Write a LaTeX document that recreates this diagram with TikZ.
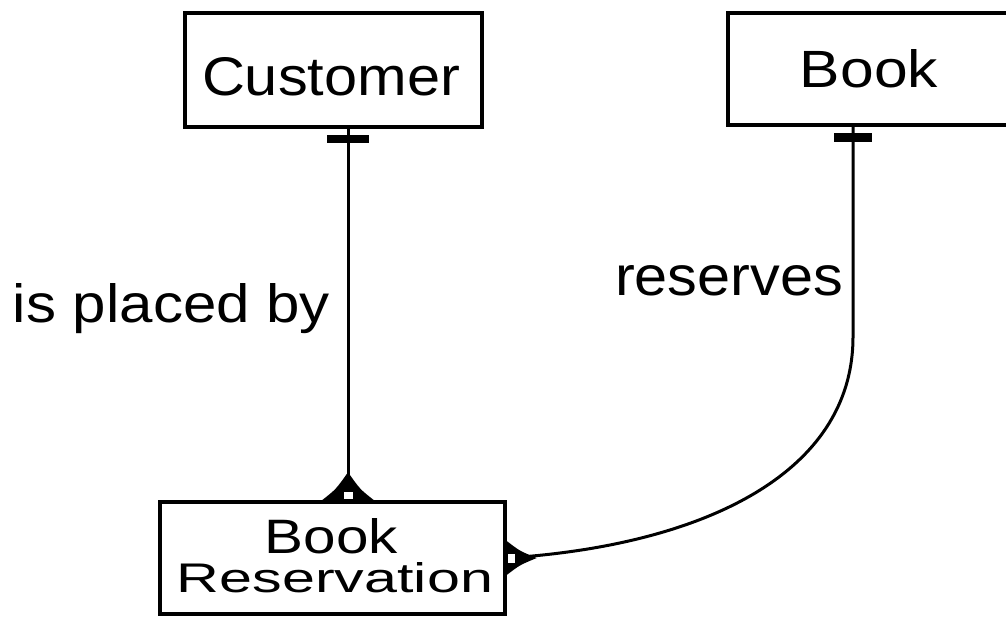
\documentclass[tikz,border=0pt]{standalone}
\usepackage{fontspec}
\setmainfont{Liberation Sans}
\usetikzlibrary{calc}
\newcommand\fitt[3]{\resizebox{#1pt}{#2pt}{#3}}
\tikzset{
  entity/.style={draw,line width=3.5pt,inner sep=0pt},
  txt/.style={anchor=base,inner sep=0pt,outer sep=0pt},
  rel/.style={line width=3pt},
  smallmark/.style={draw,fill=white,line width=1pt}
}
\begin{document}
\begin{tikzpicture}[x=1pt,y=-1pt]
\clip (0,0) rectangle (1006,618);
\fill[white] (0,0) rectangle (1006,618);
% entities
\node[entity,minimum width=297pt,minimum height=114pt] (cust) at (333.5,70) {};
\node[entity,minimum width=284pt,minimum height=112pt] (book) at (870,69) {};
\node[entity,minimum width=345pt,minimum height=112pt] (res) at (332.5,558) {};
% texts
\node[txt] (custt) at (331,95) {\fitt{258}{38}{Customer}};
\node[txt] (bookt) at (869,88) {\fitt{138}{38}{Book}};
\node[txt] (rest1) at (331.5,553) {\fitt{133}{35}{Book}};
\node[txt] (rest2) at (335,592) {\fitt{316}{30}{Reservation}};
\node[txt] (lab1) at (171.5,322) {\fitt{317}{39}{is placed by}};
\node[txt] (lab2) at (729,295) {\fitt{228}{30}{reserves}};
% Customer -- Book Reservation
\coordinate (a1) at ($(cust.south)+(14.5,0)$);
\coordinate (a2) at ($(res.north)+(15.5,0)$);
\draw[rel] (a1) -- (a2);
\fill ($(a1)+(-21,6)$) rectangle ($(a1)+(21,14)$);
\fill ($(a2)+(-26,0)$) .. controls ($(a2)+(-12,-11)$) .. ($(a2)+(0,-28)$)
      .. controls ($(a2)+(12,-11)$) .. ($(a2)+(26,0)$) -- cycle;
\path[smallmark] ($(a2)+(-5,-9)$) rectangle ($(a2)+(5,-1)$);
% Book -- Book Reservation
\coordinate (b1) at ($(book.south)+(-17,0)$);
\coordinate (b2) at (res.east);
\coordinate (b3) at ($(b1)+(0,210)$);
\draw[rel] (b1) -- (b3) .. controls ($(b3)+(0,140)$) and ($(b2)+(190,-12)$) .. (b2);
\fill ($(b1)+(-19,6)$) rectangle ($(b1)+(19,15)$);
\fill ($(b2)+(0,-17)$) .. controls ($(b2)+(13,-7)$) .. ($(b2)+(30,0)$)
      .. controls ($(b2)+(13,7)$) .. ($(b2)+(0,17)$) -- cycle;
\path[smallmark] ($(b2)+(1,-5)$) rectangle ($(b2)+(9,5)$);
\end{tikzpicture}
\end{document}
